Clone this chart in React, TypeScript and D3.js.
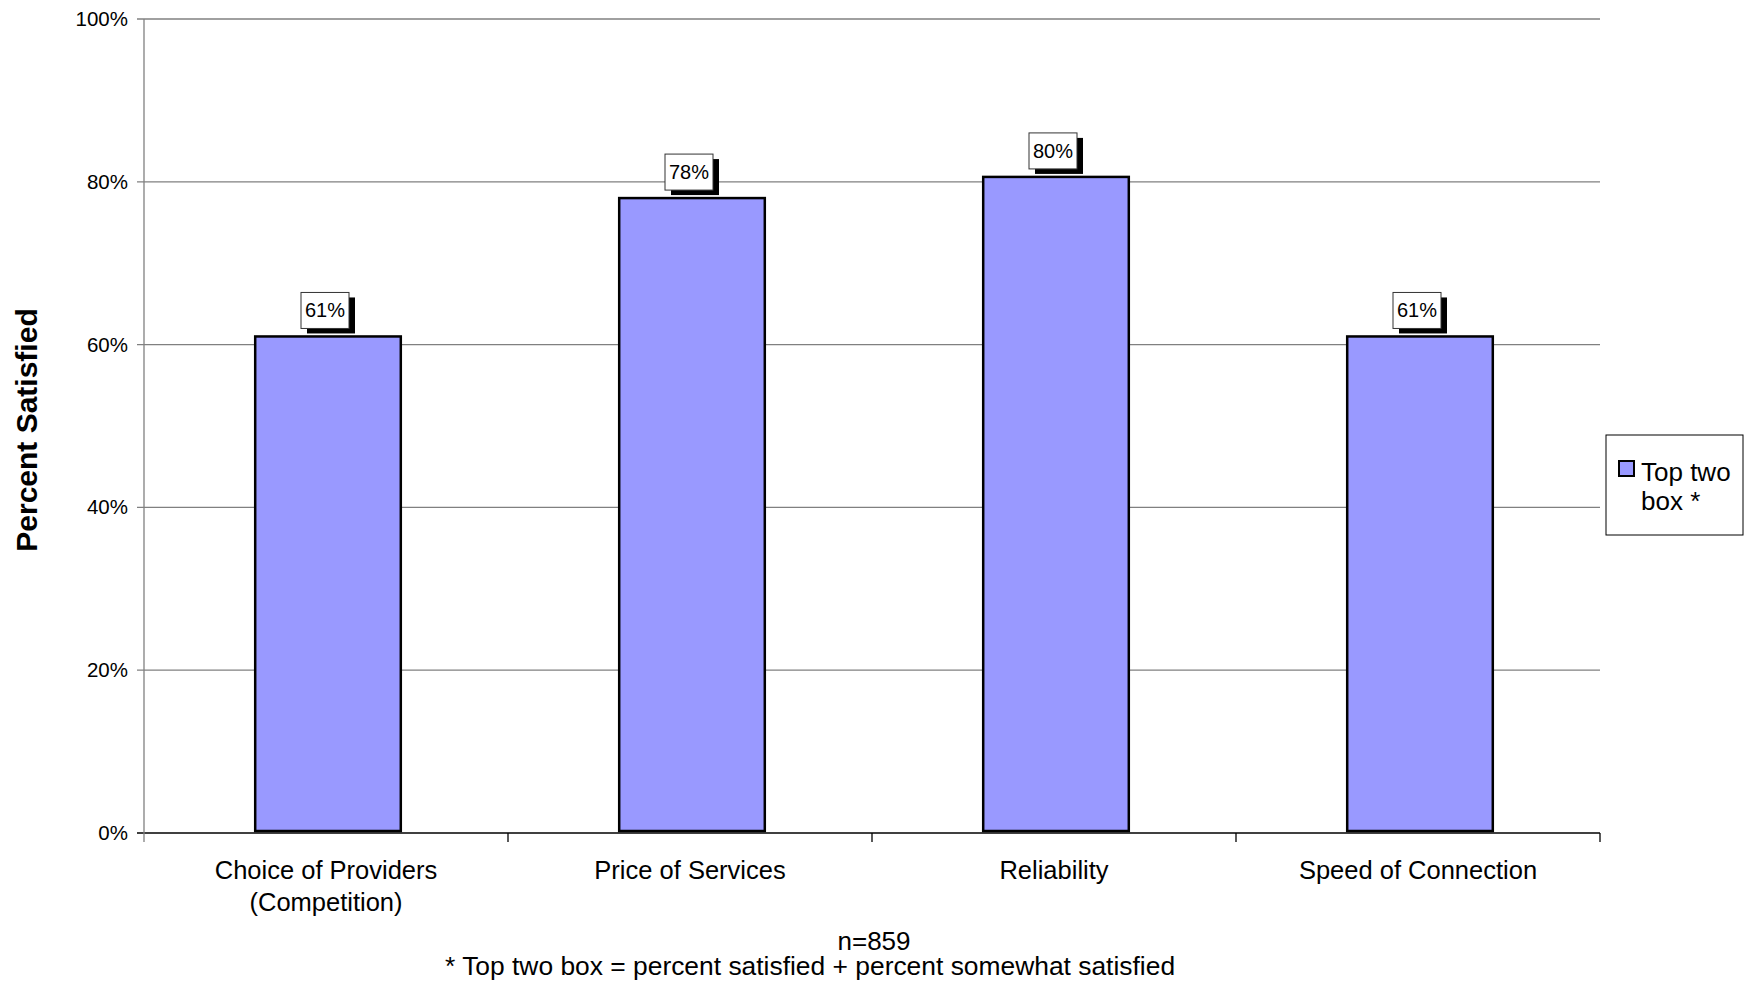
import React from "react";
import * as d3 from "d3";

const categories: string[][] = [
  ["Choice of Providers", "(Competition)"],
  ["Price of Services"],
  ["Reliability"],
  ["Speed of Connection"],
];
const values: number[] = [0.61, 0.78, 0.806, 0.61];
const valueLabels: string[] = ["61%", "78%", "80%", "61%"];
const yTicks: number[] = [0, 0.2, 0.4, 0.6, 0.8, 1.0];
const seriesName: string[] = ["Top two", "box *"];
const yTitle = "Percent Satisfied";
const footer1 = "n=859";
const footer2 = "* Top two box = percent satisfied + percent somewhat satisfied";

const W = 1744;
const H = 984;
const left = 144;
const right = 1600;
const top = 19;
const bottom = 833;
const FONT = "Arial, 'Liberation Sans', Helvetica, sans-serif";

export default function App() {
  const keys = categories.map((c) => c.join(" "));
  const x = d3
    .scaleBand<string>()
    .domain(keys)
    .range([left, right])
    .paddingInner(0.6)
    .paddingOuter(0.3);
  const y = d3.scaleLinear().domain([0, 1]).range([bottom, top]);
  const step = x.step();
  const off = 2;

  return (
    <svg
      width={W}
      height={H}
      style={{ position: "absolute", left: 0, top: 0, background: "#fff" }}
      fontFamily={FONT}
    >
      {/* gridlines */}
      {yTicks.map((t) => (
        <line
          key={"g" + t}
          x1={left - 7}
          x2={right}
          y1={y(t)}
          y2={y(t)}
          stroke={t === 0 ? "#000" : "#808080"}
          strokeWidth={1.3}
        />
      ))}
      {/* y axis */}
      <line x1={left} x2={left} y1={top} y2={bottom + 9} stroke="#808080" strokeWidth={1.3} />
      {yTicks.map((t) => (
        <text
          key={"t" + t}
          x={left - 16}
          y={y(t) + 7}
          textAnchor="end"
          fontSize={20.5}
          fill="#000"
        >
          {d3.format(".0%")(t)}
        </text>
      ))}
      {/* x ticks */}
      {keys.map((k, i) => (
        <line
          key={"xt" + k}
          x1={left + step * (i + 1)}
          x2={left + step * (i + 1)}
          y1={bottom}
          y2={bottom + 9}
          stroke="#000"
          strokeWidth={1.3}
        />
      ))}
      {/* bars */}
      {keys.map((k, i) => (
        <rect
          key={"b" + k}
          x={x(k)! + off}
          y={y(values[i])}
          width={x.bandwidth()}
          height={y(0) - y(values[i]) - 2}
          fill="#9999FF"
          stroke="#000"
          strokeWidth={2.5}
        />
      ))}
      {/* value labels */}
      {keys.map((k, i) => {
        const cx = x(k)! + off + x.bandwidth() / 2 - 3;
        const bw = 48;
        const bh = 36;
        const by = y(values[i]) - 8 - bh;
        return (
          <g key={"l" + k}>
            <rect x={cx - bw / 2 + 6} y={by + 5} width={bw} height={bh} fill="#000" />
            <rect x={cx - bw / 2} y={by} width={bw} height={bh} fill="#fff" stroke="#333" strokeWidth={1} />
            <text x={cx} y={by + bh / 2 + 7} textAnchor="middle" fontSize={20} fill="#000">
              {valueLabels[i]}
            </text>
          </g>
        );
      })}
      {/* category labels */}
      {categories.map((lines, i) => (
        <text
          key={"c" + i}
          x={x(keys[i])! + x.bandwidth() / 2}
          y={879}
          textAnchor="middle"
          fontSize={25.5}
          fill="#000"
        >
          {lines.map((ln, j) => (
            <tspan key={j} x={x(keys[i])! + x.bandwidth() / 2} dy={j === 0 ? 0 : 32}>
              {ln}
            </tspan>
          ))}
        </text>
      ))}
      {/* y title */}
      <text
        transform={`translate(37,${(top + bottom) / 2 + 4}) rotate(-90)`}
        textAnchor="middle"
        fontSize={30}
        fontWeight="bold"
        fill="#000"
      >
        {yTitle}
      </text>
      {/* legend */}
      <rect x={1606} y={435} width={137} height={100} fill="#fff" stroke="#000" strokeWidth={1} />
      <rect x={1619} y={461} width={15} height={15} fill="#9999FF" stroke="#000" strokeWidth={2} />
      <text x={1641} y={481} fontSize={26} fill="#000">{seriesName[0]}</text>
      <text x={1641} y={510} fontSize={26} fill="#000">{seriesName[1]}</text>
      {/* footer */}
      <text x={874} y={950} textAnchor="middle" fontSize={26} fill="#000">{footer1}</text>
      <text x={445} y={975} fontSize={26.4} fill="#000">{footer2}</text>
    </svg>
  );
}
